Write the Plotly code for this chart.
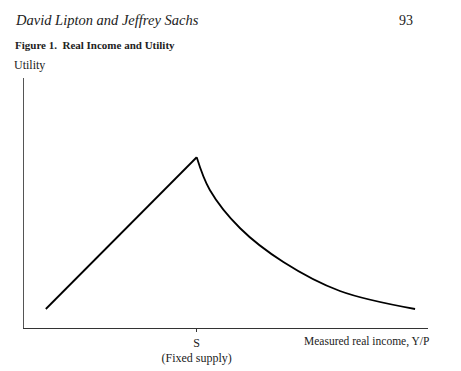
import plotly.graph_objects as go

# Data (abstract units: x 0-100, y 0-100)
rise_x = [5.4, 42.75]
rise_y = [7.6, 68.3]
fall_x = [42.75, 46.0, 53.5, 64.2, 78.2, 96.8]
fall_y = [68.3, 55.2, 39.9, 26.4, 14.8, 7.6]
tick_vals = [42.75]
tick_text = ["S<br>(Fixed supply)"]

SERIF = "Liberation Serif, Times New Roman, serif"

fig = go.Figure()
fig.add_trace(go.Scatter(x=rise_x, y=rise_y, mode="lines",
                         line=dict(color="black", width=1.8), showlegend=False,
                         hoverinfo="skip"))
fig.add_trace(go.Scatter(x=fall_x, y=fall_y, mode="lines",
                         line=dict(color="black", width=1.8, shape="spline", smoothing=1.0),
                         showlegend=False, hoverinfo="skip"))

W, H = 461, 371
l, r, t, b = 24, 33, 78, 43
pw, ph = W - l - r, H - t - b

fig.update_layout(
    width=W, height=H,
    margin=dict(l=l, r=r, t=t, b=b),
    paper_bgcolor="white", plot_bgcolor="white",
    font=dict(family=SERIF, color="#222", size=12),
    xaxis=dict(range=[0, 100], showgrid=False, zeroline=False, automargin=False,
               showline=True, linecolor="#333", linewidth=1.3,
               tickvals=tick_vals, ticktext=tick_text, ticks="outside",
               ticklen=3, tickcolor="#333", tickwidth=1,
               tickfont=dict(family=SERIF, size=12, color="#222")),
    yaxis=dict(range=[0, 100], showgrid=False, zeroline=False, automargin=False,
               showline=True, linecolor="#555", linewidth=1.3,
               showticklabels=False, ticks=""),
)


def px(xp):
    return (xp - l) / pw


def py(yp):
    return (H - b - yp) / ph


texts = [
    ("<i>David Lipton and Jeffrey Sachs</i>", 13, 20, "left", 14.5),
    ("93", 415, 20, "right", 14),
    ("<b>Figure 1.  Real Income and Utility</b>", 13, 45, "left", 11),
    ("Utility", 12, 65, "left", 12),
    ("Measured real income, Y/P", 431, 341, "right", 11.5),
]
for txt, xp, yp, anchor, size in texts:
    fig.add_annotation(text=txt, x=px(xp), y=py(yp), xref="paper", yref="paper",
                       xanchor=anchor, yanchor="middle", showarrow=False,
                       font=dict(family=SERIF, size=size, color="#222"))

fig.write_html("out.html")
